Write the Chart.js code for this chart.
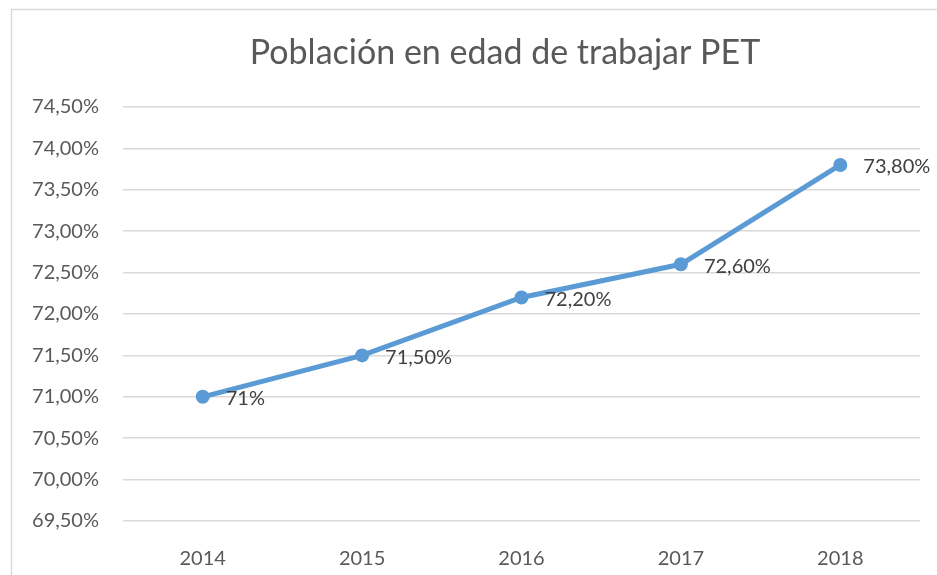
<!DOCTYPE html>
<html>
<head>
<meta charset="utf-8">
<script src="https://cdn.jsdelivr.net/npm/chart.js@4"></script>
<style>
  html, body { margin: 0; padding: 0; background: #fff; }
  #wrap { width: 937px; height: 575px; }
</style>
</head>
<body>
<div id="wrap"><canvas id="pet"></canvas></div>
<script>
// data
var years = ['2014', '2015', '2016', '2017', '2018'];
var petValues = [71.0, 71.5, 72.2, 72.6, 73.8];
var petLabels = ['71%', '71,50%', '72,20%', '72,60%', '73,80%'];
var yMin = 69.5, yMax = 74.5, yStep = 0.5;
var chartTitle = 'Población en edad de trabajar PET';

var FONT = 'Lato, "Liberation Sans", sans-serif';

// thin frame + title (title is centred on the original, wider frame)
var framePlugin = {
  id: 'frame',
  beforeDraw: function(chart) {
    var ctx = chart.ctx;
    ctx.save();
    ctx.strokeStyle = '#d9d9d9';
    ctx.lineWidth = 1.5;
    ctx.strokeRect(11.5, 9.5, 2000, 2000);
    ctx.font = '34px ' + FONT;
    ctx.fillStyle = '#595959';
    ctx.textAlign = 'center';
    ctx.textBaseline = 'middle';
    ctx.fillText(chartTitle, 505, 53);
    ctx.restore();
  }
};

// value labels to the right of each point
var valueLabels = {
  id: 'valueLabels',
  afterDatasetsDraw: function(chart) {
    var ctx = chart.ctx;
    var meta = chart.getDatasetMeta(0);
    ctx.save();
    ctx.font = '20px ' + FONT;
    ctx.fillStyle = '#404040';
    ctx.textAlign = 'left';
    ctx.textBaseline = 'middle';
    meta.data.forEach(function(pt, i) {
      ctx.fillText(petLabels[i], pt.x + 23, pt.y + 2);
    });
    ctx.restore();
  }
};

new Chart(document.getElementById('pet'), {
  type: 'line',
  data: {
    labels: years,
    datasets: [{
      label: 'PET',
      data: petValues,
      borderColor: '#5b9bd5',
      backgroundColor: '#5b9bd5',
      borderWidth: 5,
      pointRadius: 7,
      pointHoverRadius: 7,
      pointBackgroundColor: '#5b9bd5',
      pointBorderWidth: 0,
      tension: 0,
      clip: false
    }]
  },
  options: {
    responsive: true,
    maintainAspectRatio: false,
    animation: false,
    layout: { padding: { left: 0, right: 17, top: 107, bottom: 0 } },
    plugins: {
      legend: { display: false },
      tooltip: { enabled: false },
      title: { display: false }
    },
    scales: {
      x: {
        offset: true,
        grid: { display: false },
        border: { display: false },
        ticks: { color: '#595959', font: { family: FONT, size: 20 }, padding: 18 },
        afterFit: function(scale) { scale.height = 54; }
      },
      y: {
        min: yMin,
        max: yMax,
        grid: { color: '#d9d9d9', lineWidth: 1.5, drawTicks: false },
        border: { display: false },
        ticks: {
          stepSize: yStep,
          color: '#595959',
          font: { family: FONT, size: 20 },
          padding: 24,
          callback: function(v) { return v.toFixed(2).replace('.', ',') + '%'; }
        },
        afterFit: function(scale) { scale.width = 123; }
      }
    }
  },
  plugins: [framePlugin, valueLabels]
});
</script>
</body>
</html>
